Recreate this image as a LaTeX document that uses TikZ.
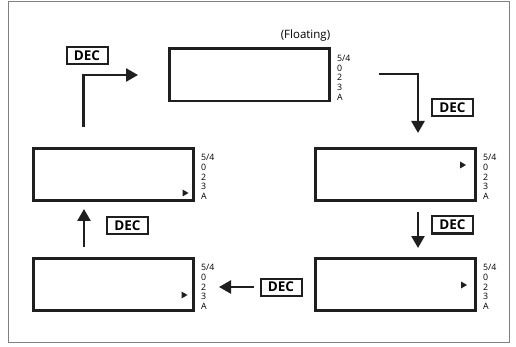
\documentclass[tikz,border=0pt]{standalone}
\usepackage{fontspec}
\setmainfont{Open Sans}
\usetikzlibrary{arrows.meta,calc}
\begin{document}
\begin{tikzpicture}[x=1pt,y=-1pt,
  lcd/.style={draw=black!88, line width=2.6pt, minimum width=160.4pt, minimum height=52.4pt, inner sep=0pt},
  lbl/.style={anchor=north west, inner sep=0pt, outer sep=0pt, align=left, font=\fontsize{8.8}{9.7}\selectfont},
  decbox/.style={draw=black!88, line width=2pt, inner sep=0pt, minimum width=41pt, minimum height=17pt, font=\bfseries\fontsize{13.5}{13.5}\selectfont},
  arr/.style={draw=black!88, line width=2.5pt, -{Triangle[length=12pt,width=13pt]}},
  cursormark/.style={fill=black!88},
]
\useasboundingbox (0,0) rectangle (516,347);
\fill[white] (0,0) rectangle (516,347);
\draw[black!50, line width=1.6pt] (8.5,1.5) rectangle (509.5,342.5);

% display boxes
\node[lcd] (t)  at (249.5,75) {};
\node[lcd] (mr) at (395.5,174.5) {};
\node[lcd] (ml) at (113.5,174.5) {};
\node[lcd] (bl) at (113.5,284.5) {};
\node[lcd] (br) at (395.5,284.5) {};

% indicator labels
\foreach \b in {t,mr,ml,bl,br}{
  \node[lbl] (\b lab) at ($(\b.north east)+(6,7.5)$) {5/4\\0\\2\\3\\A};
}

\node[font=\fontsize{11.5}{13}\selectfont, inner sep=0pt] (flt) at (305.5,36) {(Floating)};

% cursor marks
\fill[cursormark] (463,165) +(-3,-3.5) -- +(3,0) -- +(-3,3.5) -- cycle;
\fill[cursormark] (185.5,193) +(-3,-3.5) -- +(3,0) -- +(-3,3.5) -- cycle;
\fill[cursormark] (184.5,295) +(-3,-3.5) -- +(3,0) -- +(-3,3.5) -- cycle;
\fill[cursormark] (464,285) +(-3,-3.5) -- +(3,0) -- +(-3,3.5) -- cycle;

% DEC keys
\node[decbox] (d1) at (87,56) {DEC};
\node[decbox] (d2) at (452.5,108) {DEC};
\node[decbox] (d3) at (452.5,225) {DEC};
\node[decbox] (d4) at (281,287) {DEC};
\node[decbox] (d5) at (127.5,225.5) {DEC};

% arrow ends
\coordinate (a1s) at (83.5,127);
\coordinate (a1c) at (83.5,75);
\coordinate (a1e) at (138,75);
\coordinate (a2s) at (379,74);
\coordinate (a2c) at (418,74);
\coordinate (a2e) at (418,133);
\coordinate (a3s) at (418,212);
\coordinate (a3e) at (418,248);
\coordinate (a4s) at (254,287);
\coordinate (a4e) at (219,287);
\coordinate (a5s) at (84,247);
\coordinate (a5e) at (84,209);

\draw[arr] (a1s) -- (a1c) -- (a1e);
\draw[arr] (a2s) -- (a2c) -- (a2e);
\draw[arr] (a3s) -- (a3e);
\draw[arr] (a4s) -- (a4e);
\draw[arr] (a5s) -- (a5e);
\end{tikzpicture}
\end{document}
